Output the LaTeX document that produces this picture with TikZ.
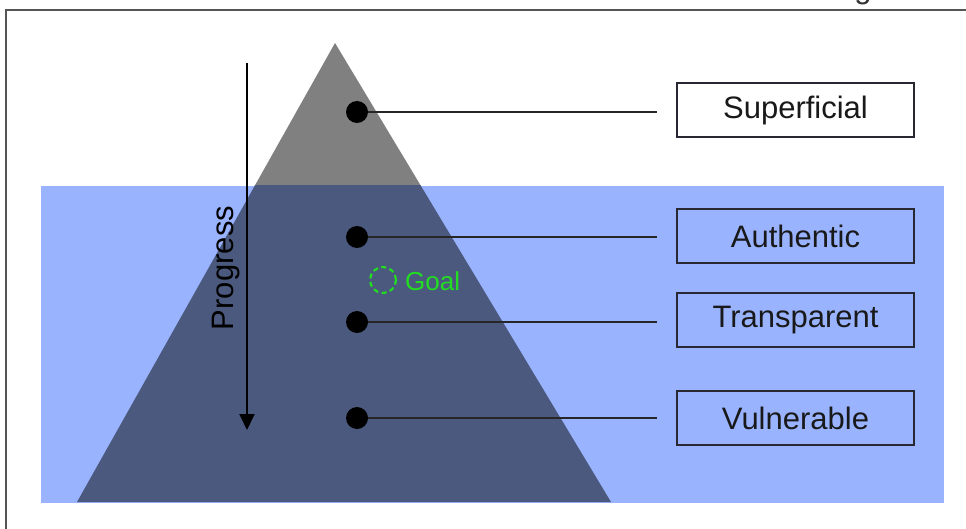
\documentclass[tikz,border=0pt]{standalone}
\usepackage{fontspec}
\setmainfont{Liberation Sans}
\usetikzlibrary{arrows.meta}
\definecolor{water}{RGB}{153,179,255}
\definecolor{ice}{RGB}{128,128,128}
\definecolor{deep}{RGB}{74,89,125}
\definecolor{goalgreen}{RGB}{34,221,34}
\definecolor{framegray}{RGB}{85,85,85}
\definecolor{boxline}{RGB}{40,40,50}
\begin{document}
\begin{tikzpicture}[x=1pt,y=-1pt,
  labelbox/.style={draw=boxline,line width=1.5pt,minimum width=237pt,minimum height=54pt,inner sep=0pt,text=black!90,font=\fontsize{31}{31}\selectfont},
  levdot/.style={circle,fill=black,minimum size=22pt,inner sep=0pt},
  conn/.style={draw=black!85,line width=1.8pt}]
\useasboundingbox (0,0) rectangle (966,529);
\fill[white] (0,0) rectangle (966,529);
% frame
\draw[framegray,line width=2pt] (6,540) -- (6,10) -- (980,10);
\node[anchor=base,font=\fontsize{31}{31}\selectfont,text=black!80,inner sep=0pt] (gfrag) at (863,-1) {g};
% iceberg
\fill[ice] (335,43) -- (611,502) -- (77,502) -- cycle;
\fill[water] (41,186) rectangle (944,503);
\begin{scope}
\clip (41,186) rectangle (944,503);
\fill[deep] (335,43) -- (611,502) -- (77,502) -- cycle;
\end{scope}
% progress arrow
\coordinate (ps) at (247,63);
\coordinate (pe) at (247,430);
\draw[black,line width=2pt,-{Triangle[length=16pt,width=15pt]}] (ps) -- (pe);
\node[rotate=90,font=\fontsize{31}{31}\selectfont,inner sep=0pt] (prog) at (226,268) {Progress};
% goal
\node[circle,draw=goalgreen,dash pattern=on 5pt off 3.5pt,line width=2.2pt,minimum size=26pt,inner sep=0pt] (goal) at (383,280) {};
\node[anchor=west,text=goalgreen,font=\fontsize{26}{26}\selectfont,inner sep=0pt] (goaltxt) at (405,281) {Goal};
% dots
\node[levdot] (d1) at (357,112) {};
\node[levdot] (d2) at (357,237) {};
\node[levdot] (d3) at (357,322) {};
\node[levdot] (d4) at (357,418) {};
% boxes
\node[labelbox,fill=white] (b1) at (795.5,110) {Superficial};
\node[labelbox] (b2) at (795.5,236) {Authentic};
\node[labelbox] (b3) at (795.5,320) {Transparent};
\node[labelbox] (b4) at (795.5,418) {Vulnerable};
% connectors
\coordinate (e1) at (657,112);
\coordinate (e2) at (657,237);
\coordinate (e3) at (657,322);
\coordinate (e4) at (657,418);
\draw[conn] (d1) -- (e1);
\draw[conn] (d2) -- (e2);
\draw[conn] (d3) -- (e3);
\draw[conn] (d4) -- (e4);
\end{tikzpicture}
\end{document}
